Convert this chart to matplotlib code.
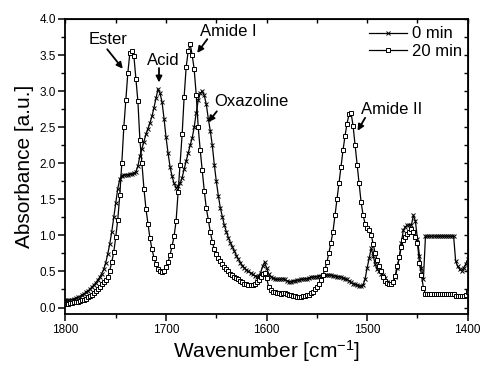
import matplotlib
matplotlib.use("Agg")
import matplotlib.pyplot as plt
from matplotlib.ticker import MultipleLocator

plt.rcParams['font.family'] = ['Liberation Sans', 'DejaVu Sans']
plt.rcParams['mathtext.fontset'] = 'custom'
plt.rcParams['mathtext.rm'] = 'Liberation Sans'

wavenumber = [
    1800, 1798, 1796, 1794, 1792, 1790, 1788, 1786, 1784, 1782, 1780, 1778, 1776, 1774, 1772, 1770, 1768, 1766, 1764, 1762,
    1760, 1758, 1756, 1754, 1752, 1750, 1748, 1746, 1744, 1742, 1740, 1738, 1736, 1734, 1732, 1730, 1728, 1726, 1724, 1722,
    1720, 1718, 1716, 1714, 1712, 1710, 1708, 1706, 1704, 1702, 1700, 1698, 1696, 1694, 1692, 1690, 1688, 1686, 1684, 1682,
    1680, 1678, 1676, 1674, 1672, 1670, 1668, 1666, 1664, 1662, 1660, 1658, 1656, 1654, 1652, 1650, 1648, 1646, 1644, 1642,
    1640, 1638, 1636, 1634, 1632, 1630, 1628, 1626, 1624, 1622, 1620, 1618, 1616, 1614, 1612, 1610, 1608, 1606, 1604, 1602,
    1600, 1598, 1596, 1594, 1592, 1590, 1588, 1586, 1584, 1582, 1580, 1578, 1576, 1574, 1572, 1570, 1568, 1566, 1564, 1562,
    1560, 1558, 1556, 1554, 1552, 1550, 1548, 1546, 1544, 1542, 1540, 1538, 1536, 1534, 1532, 1530, 1528, 1526, 1524, 1522,
    1520, 1518, 1516, 1514, 1512, 1510, 1508, 1506, 1504, 1502, 1500, 1498, 1496, 1494, 1492, 1490, 1488, 1486, 1484, 1482,
    1480, 1478, 1476, 1474, 1472, 1470, 1468, 1466, 1464, 1462, 1460, 1458, 1456, 1454, 1452, 1450, 1448, 1446, 1444, 1442,
    1440, 1438, 1436, 1434, 1432, 1430, 1428, 1426, 1424, 1422, 1420, 1418, 1416, 1414, 1412, 1410, 1408, 1406, 1404, 1402,
    1400,
]

absorb_0min = [
    0.10, 0.10, 0.11, 0.11, 0.12, 0.13, 0.14, 0.15, 0.17, 0.19, 0.21, 0.23, 0.25, 0.28, 0.31, 0.34, 0.38, 0.42, 0.47, 0.53,
    0.62, 0.74, 0.88, 1.05, 1.25, 1.45, 1.65, 1.78, 1.83, 1.84, 1.84, 1.84, 1.85, 1.85, 1.86, 1.88, 1.96, 2.10, 2.20, 2.30,
    2.40, 2.48, 2.56, 2.65, 2.77, 2.90, 3.03, 2.97, 2.85, 2.62, 2.36, 2.14, 1.95, 1.82, 1.72, 1.66, 1.68, 1.72, 1.80, 1.92,
    2.03, 2.14, 2.25, 2.35, 2.50, 2.70, 2.87, 2.97, 3.00, 2.94, 2.82, 2.62, 2.45, 2.25, 1.98, 1.75, 1.55, 1.38, 1.26, 1.14,
    1.05, 0.97, 0.90, 0.84, 0.78, 0.72, 0.67, 0.62, 0.58, 0.55, 0.52, 0.50, 0.48, 0.46, 0.44, 0.43, 0.44, 0.48, 0.57, 0.63,
    0.55, 0.47, 0.43, 0.41, 0.40, 0.39, 0.39, 0.39, 0.40, 0.39, 0.37, 0.36, 0.36, 0.37, 0.37, 0.38, 0.38, 0.39, 0.39, 0.40,
    0.40, 0.41, 0.42, 0.42, 0.43, 0.43, 0.44, 0.44, 0.45, 0.45, 0.45, 0.45, 0.45, 0.44, 0.44, 0.43, 0.43, 0.42, 0.41, 0.40,
    0.39, 0.37, 0.35, 0.33, 0.32, 0.31, 0.30, 0.30, 0.31, 0.40, 0.55, 0.68, 0.82, 0.72, 0.60, 0.53, 0.50, 0.47, 0.45, 0.41,
    0.36, 0.32, 0.33, 0.36, 0.43, 0.55, 0.70, 0.90, 1.07, 1.12, 1.14, 1.15, 1.14, 1.28, 1.20, 0.95, 0.72, 0.55, 0.40, 0.99,
    0.99, 0.99, 0.99, 0.99, 0.99, 0.99, 0.99, 0.99, 0.99, 0.99, 0.99, 0.99, 0.99, 0.99, 0.65, 0.57, 0.53, 0.51, 0.55, 0.60,
    0.67,
]

absorb_20min = [
    0.05, 0.05, 0.06, 0.06, 0.07, 0.07, 0.08, 0.09, 0.10, 0.11, 0.12, 0.14, 0.16, 0.18, 0.20, 0.23, 0.26, 0.29, 0.32, 0.35,
    0.38, 0.42, 0.51, 0.63, 0.77, 0.98, 1.22, 1.56, 2.00, 2.50, 2.88, 3.25, 3.53, 3.55, 3.49, 3.17, 2.86, 2.32, 2.00, 1.65,
    1.37, 1.16, 0.96, 0.81, 0.69, 0.60, 0.53, 0.50, 0.49, 0.51, 0.56, 0.63, 0.73, 0.85, 0.99, 1.20, 1.60, 1.98, 2.40, 2.92,
    3.33, 3.55, 3.65, 3.50, 3.30, 2.95, 2.50, 2.18, 1.90, 1.62, 1.38, 1.22, 1.05, 0.91, 0.81, 0.74, 0.69, 0.64, 0.60, 0.56,
    0.53, 0.50, 0.47, 0.45, 0.43, 0.41, 0.39, 0.37, 0.35, 0.33, 0.32, 0.31, 0.31, 0.31, 0.32, 0.35, 0.38, 0.42, 0.46, 0.48,
    0.41, 0.29, 0.24, 0.22, 0.21, 0.20, 0.20, 0.19, 0.20, 0.20, 0.19, 0.18, 0.17, 0.16, 0.16, 0.15, 0.15, 0.15, 0.16, 0.16,
    0.17, 0.18, 0.20, 0.22, 0.25, 0.29, 0.33, 0.38, 0.45, 0.53, 0.63, 0.76, 0.90, 1.05, 1.28, 1.50, 1.72, 1.95, 2.18, 2.38,
    2.55, 2.68, 2.70, 2.52, 2.25, 1.97, 1.72, 1.46, 1.28, 1.16, 1.10, 1.08, 1.01, 0.88, 0.75, 0.66, 0.58, 0.50, 0.42, 0.37,
    0.34, 0.32, 0.32, 0.35, 0.44, 0.57, 0.70, 0.84, 0.93, 0.98, 1.02, 1.05, 1.09, 1.05, 0.98, 0.90, 0.62, 0.45, 0.27, 0.19,
    0.19, 0.19, 0.19, 0.19, 0.19, 0.19, 0.19, 0.19, 0.19, 0.19, 0.19, 0.19, 0.19, 0.19, 0.16, 0.16, 0.16, 0.16, 0.16, 0.18,
    0.21,
]

series_labels = ["0 min", "20 min"]
x_ticks = [1800, 1700, 1600, 1500, 1400]
y_ticks = [0.0, 0.5, 1.0, 1.5, 2.0, 2.5, 3.0, 3.5, 4.0]

# annotations: (text, text position, arrow tail, arrow head) in data coordinates
annotations = [
    ("Ester", (1757.5, 3.71), (1758.5, 3.58), (1743.0, 3.31)),
    ("Acid", (1703.0, 3.43), (1707.0, 3.32), (1707.0, 3.12)),
    ("Amide I", (1638.0, 3.82), (1659.0, 3.72), (1669.0, 3.53)),
    ("Oxazoline", (1615.0, 2.85), (1649.5, 2.72), (1658.0, 2.57)),
    ("Amide II", (1476.0, 2.74), (1502.0, 2.63), (1509.5, 2.45)),
]

fig = plt.figure(figsize=(4.83, 3.68), dpi=100)
ax = fig.add_axes([0.1356, 0.1467, 0.8327, 0.8017])

ax.plot(wavenumber, absorb_0min, color='black', lw=0.9, marker='x', ms=3.2,
        mew=0.7, label=series_labels[0])
ax.plot(wavenumber, absorb_20min, color='black', lw=0.9, marker='s', ms=3.0,
        mew=0.7, mfc='white', label=series_labels[1])

ax.set_xlim(1800, 1400)
ax.set_ylim(-0.09, 4.0)
ax.set_xticks(x_ticks)
ax.set_yticks(y_ticks)
ax.set_yticklabels([f"{v:.1f}" for v in y_ticks])
ax.xaxis.set_minor_locator(MultipleLocator(50))
ax.yaxis.set_minor_locator(MultipleLocator(0.25))

for s in ax.spines.values():
    s.set_linewidth(1.3)

ax.tick_params(axis='both', which='major', labelsize=8.5, width=1.1, length=5,
               direction='out', pad=2)
ax.tick_params(axis='both', which='minor', width=1.0, length=3, direction='out')
# secondary axes for inward ticks on top/right
axt = ax.secondary_xaxis('top')
axt.set_xticks(x_ticks)
axt.xaxis.set_minor_locator(MultipleLocator(50))
axt.tick_params(which='both', direction='in', labeltop=False, length=3, width=1.0)
axr = ax.secondary_yaxis('right')
axr.set_yticks(y_ticks)
axr.yaxis.set_minor_locator(MultipleLocator(0.25))
axr.tick_params(which='both', direction='in', labelright=False, length=3, width=1.0)

ax.set_xlabel("Wavenumber [cm$\\mathregular{^{-1}}$]", fontsize=15, labelpad=2)
ax.set_ylabel("Absorbance [a.u.]", fontsize=15, labelpad=4)

for text, tpos, tail, head in annotations:
    ax.text(tpos[0], tpos[1], text, fontsize=12, ha='center', va='center')
    ax.annotate("", xy=head, xytext=tail,
                arrowprops=dict(arrowstyle='-|>', color='black', lw=1.3,
                                mutation_scale=9, shrinkA=0, shrinkB=0))

ax.legend(loc='upper right', bbox_to_anchor=(0.985, 0.975), frameon=False,
          fontsize=12, handlelength=2.3, handletextpad=0.25, labelspacing=0.15,
          borderpad=0, borderaxespad=0)

fig.savefig("out.png", dpi=100)
